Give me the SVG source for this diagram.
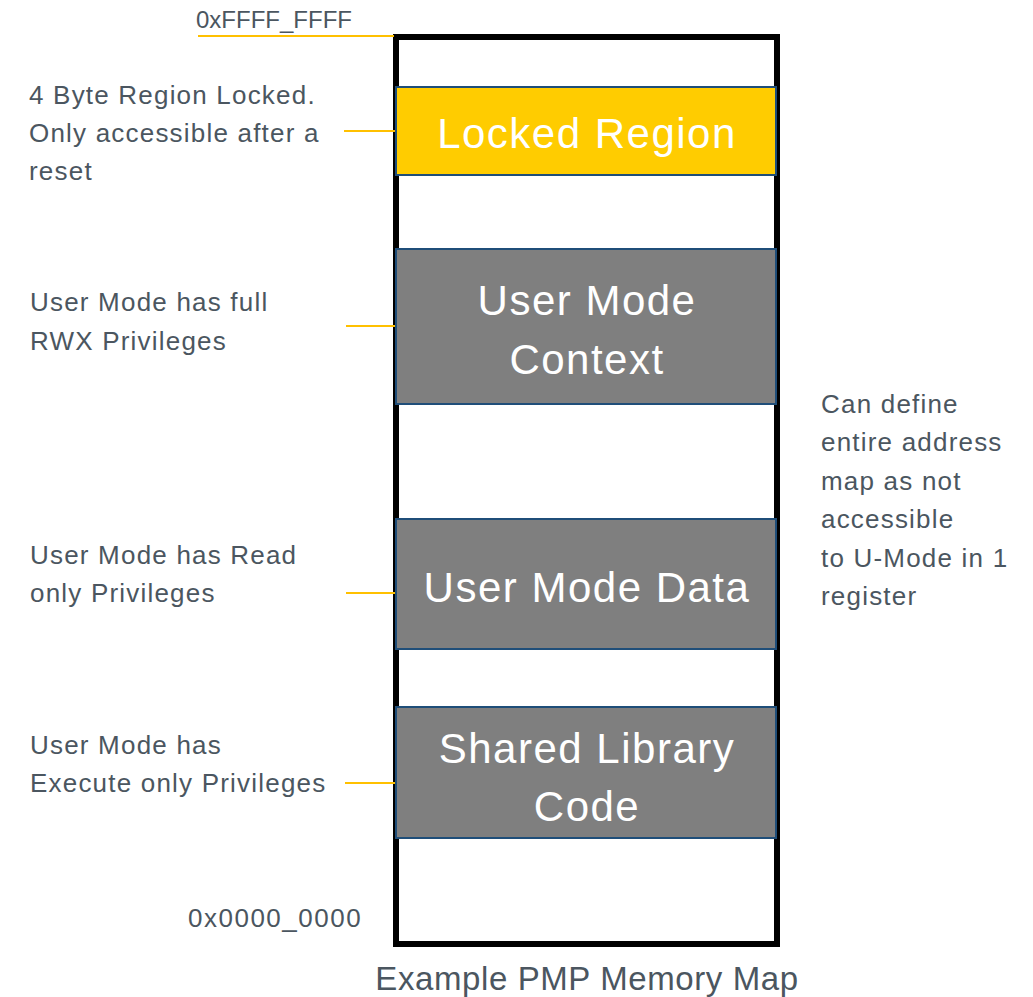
<svg xmlns="http://www.w3.org/2000/svg" width="1033" height="997" viewBox="0 0 1033 997">
<style>
.lbl{font-family:"Liberation Sans",Arial,sans-serif;font-size:26px;letter-spacing:1.2px;fill:#4b5660}
.inner{font-family:"Liberation Sans",Arial,sans-serif;font-size:42px;letter-spacing:1.5px;fill:#ffffff;text-anchor:middle}
.reg{stroke:#1f4e79;stroke-width:2}
.ln{stroke:#ffc000;stroke-width:2;fill:none}
</style>
<rect width="1033" height="997" fill="#ffffff"/>
<g id="memory-map">
<rect x="396" y="37" width="381" height="907" fill="none" stroke="#000" stroke-width="6"/>
</g>
<g id="connectors">
<line class="ln" x1="198" y1="36" x2="394" y2="36"/>
<line class="ln" x1="344" y1="131" x2="396" y2="131"/>
<line class="ln" x1="346" y1="326" x2="396" y2="326"/>
<line class="ln" x1="346" y1="593" x2="396" y2="593"/>
<line class="ln" x1="345" y1="783" x2="396" y2="783"/>
</g>
<g id="locked-region">
<rect class="reg" x="396" y="87" width="380" height="88" fill="#ffcc00"/>
<text class="inner" x="587" y="148">Locked Region</text>
</g>
<g id="user-mode-context">
<rect class="reg" x="396" y="249" width="380" height="155" fill="#7f7f7f"/>
<text class="inner" x="587" y="315">User Mode</text>
<text class="inner" x="587" y="374">Context</text>
</g>
<g id="user-mode-data">
<rect class="reg" x="396" y="519" width="380" height="130" fill="#7f7f7f"/>
<text class="inner" x="587" y="602">User Mode Data</text>
</g>
<g id="shared-library-code">
<rect class="reg" x="396" y="707" width="380" height="131" fill="#7f7f7f"/>
<text class="inner" x="587" y="763">Shared Library</text>
<text class="inner" x="587" y="821">Code</text>
</g>
<g id="labels">
<text class="lbl" x="196" y="28" style="font-size:24px;letter-spacing:0">0xFFFF_FFFF</text>
<text class="lbl" x="188" y="927" style="letter-spacing:1.5px">0x0000_0000</text>
<text class="lbl" x="29" y="104">4 Byte Region Locked.</text>
<text class="lbl" x="29" y="142">Only accessible after a</text>
<text class="lbl" x="29" y="180">reset</text>
<text class="lbl" x="30" y="311">User Mode has full</text>
<text class="lbl" x="30" y="350">RWX Privileges</text>
<text class="lbl" x="30" y="564">User Mode has Read</text>
<text class="lbl" x="30" y="602">only Privileges</text>
<text class="lbl" x="30" y="754">User Mode has</text>
<text class="lbl" x="30" y="792">Execute only Privileges</text>
<text class="lbl" x="821" y="413">Can define</text>
<text class="lbl" x="821" y="451">entire address</text>
<text class="lbl" x="821" y="490">map as not</text>
<text class="lbl" x="821" y="528">accessible</text>
<text class="lbl" x="821" y="567">to U-Mode in 1</text>
<text class="lbl" x="821" y="605">register</text>
<text x="587" y="990" style="font-family:'Liberation Sans',Arial,sans-serif;font-size:33px;letter-spacing:0.6px;fill:#4b5660;text-anchor:middle">Example PMP Memory Map</text>
</g>
</svg>
